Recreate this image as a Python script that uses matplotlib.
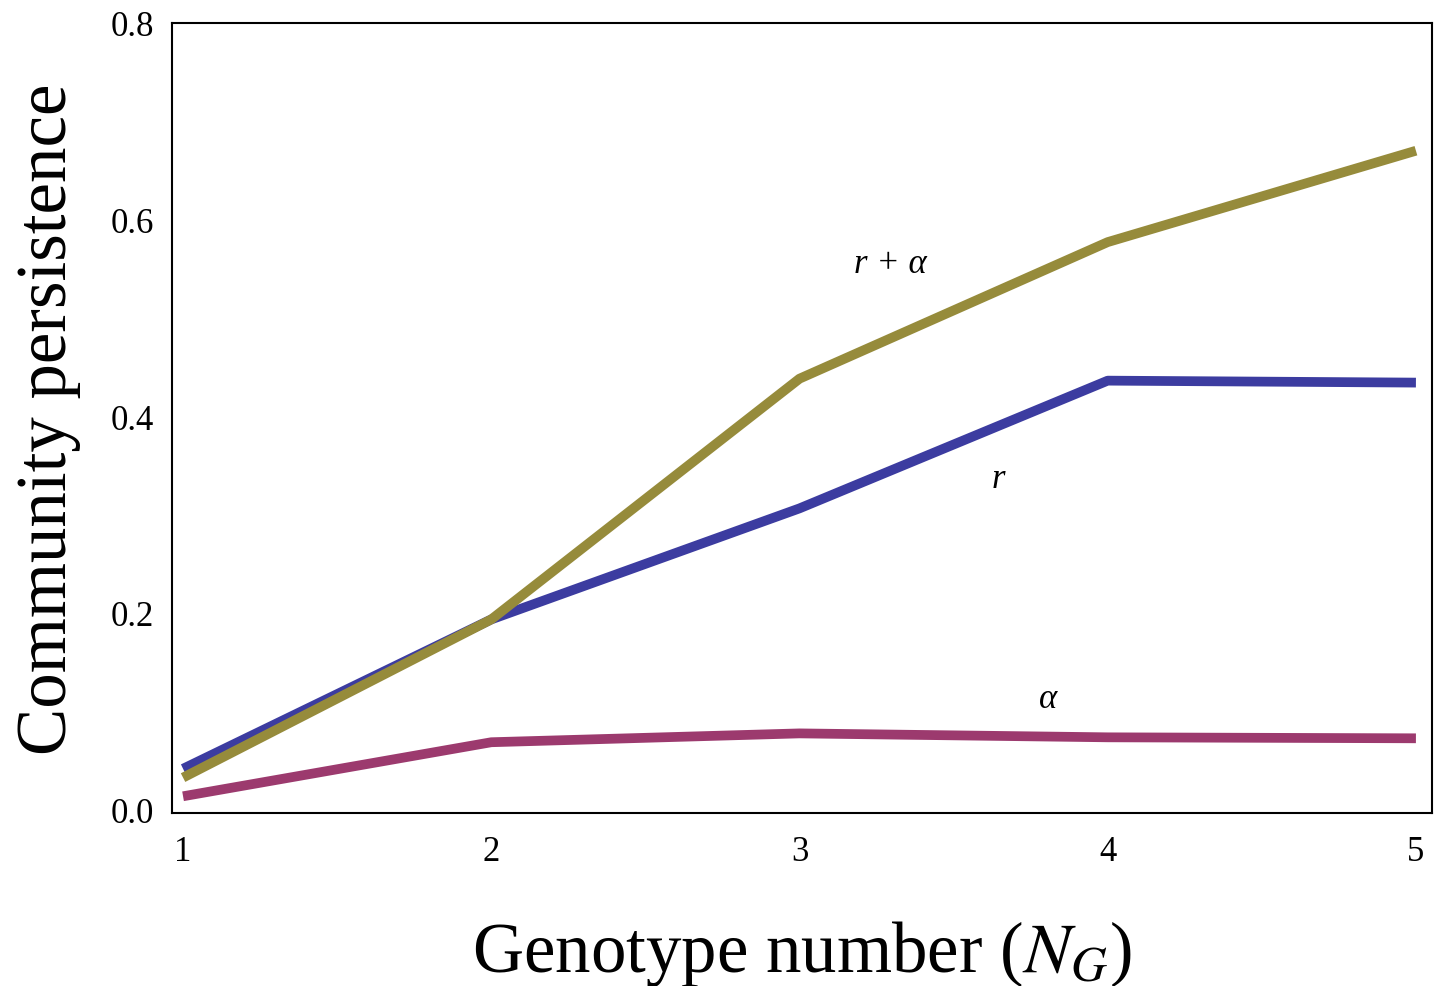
import matplotlib
matplotlib.use("Agg")
import matplotlib.pyplot as plt

plt.rcParams['font.family'] = ['Liberation Serif', 'DejaVu Serif']
plt.rcParams['mathtext.fontset'] = 'stix'

genotypes = [1, 2, 3, 4, 5]
r_alpha = [0.032, 0.193, 0.438, 0.577, 0.670]
r_only = [0.041, 0.193, 0.306, 0.436, 0.434]
alpha_only = [0.013, 0.068, 0.077, 0.073, 0.072]
yticks = [0.0, 0.2, 0.4, 0.6, 0.8]

fig = plt.figure(figsize=(14.39, 9.87), dpi=100)
ax = fig.add_axes([0.1195, 0.1753, 0.8756, 0.8004])

lw = 7.0
ax.plot(genotypes, r_only, color='#3c3ca0', lw=lw, solid_capstyle='butt')
ax.plot(genotypes, r_alpha, color='#968b3b', lw=lw, solid_capstyle='butt')
ax.plot(genotypes, alpha_only, color='#9c3a6e', lw=lw, solid_capstyle='butt')

ax.text(3.294, 0.555, 'r + α', fontsize=25, fontstyle='italic', ha='center', va='center')
ax.text(3.644, 0.336, 'r', fontsize=25, fontstyle='italic', ha='center', va='center')
ax.text(3.806, 0.112, 'α', fontsize=25, fontstyle='italic', ha='center', va='center')

ax.set_xlim(0.964, 5.052)
ax.set_ylim(-0.004, 0.8)
ax.set_xticks(genotypes)
ax.set_xticklabels([str(g) for g in genotypes])
ax.set_yticks(yticks)
ax.set_yticklabels([f'{v:.1f}' for v in yticks])
ax.tick_params(axis='x', length=0, labelsize=25, pad=16)
ax.tick_params(axis='y', length=0, labelsize=25, pad=13)
for s in ax.spines.values():
    s.set_linewidth(1.5)

ax.set_xlabel(r'Genotype number ($N_G$)', fontsize=51, labelpad=36)
ax.set_ylabel('Community persistence', fontsize=51, labelpad=21)

fig.savefig('out.png', dpi=100)
